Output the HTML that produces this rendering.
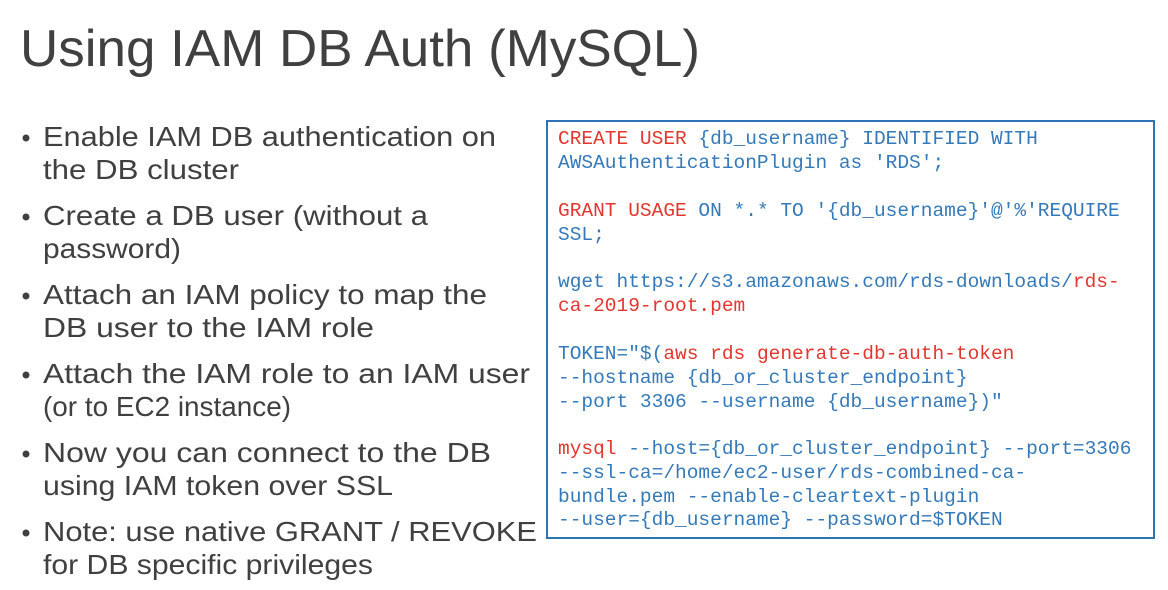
<!DOCTYPE html>
<html><head><meta charset="utf-8"><style>
html,body{margin:0;padding:0;background:#fff;width:1168px;height:590px;overflow:hidden}
svg{display:block}
.t{font-family:"Liberation Sans",sans-serif;fill:#404040}
.c{font-family:"Liberation Mono",monospace;font-size:19.5px}
.b{fill:#3579b8}.r{fill:#e2362f}
</style></head><body>
<svg width="1168" height="590" xmlns="http://www.w3.org/2000/svg">
<text class="t" x="20" y="66" font-size="52" textLength="680" lengthAdjust="spacingAndGlyphs">Using IAM DB Auth (MySQL)</text>
<g class="t" font-size="28">
<circle cx="26" cy="138" r="3.5" fill="#404040"/>
<text x="43" y="146" textLength="453" lengthAdjust="spacingAndGlyphs">Enable IAM DB authentication on</text>
<text x="43" y="179" textLength="196" lengthAdjust="spacingAndGlyphs">the DB cluster</text>
<circle cx="26" cy="217" r="3.5" fill="#404040"/>
<text x="43" y="225" textLength="385" lengthAdjust="spacingAndGlyphs">Create a DB user (without a</text>
<text x="43" y="258" textLength="138" lengthAdjust="spacingAndGlyphs">password)</text>
<circle cx="26" cy="296" r="3.5" fill="#404040"/>
<text x="43" y="304" textLength="444" lengthAdjust="spacingAndGlyphs">Attach an IAM policy to map the</text>
<text x="43" y="337" textLength="331" lengthAdjust="spacingAndGlyphs">DB user to the IAM role</text>
<circle cx="26" cy="375" r="3.5" fill="#404040"/>
<text x="43" y="383" textLength="487" lengthAdjust="spacingAndGlyphs">Attach the IAM role to an IAM user</text>
<text x="43" y="416" textLength="248" lengthAdjust="spacingAndGlyphs">(or to EC2 instance)</text>
<circle cx="26" cy="454" r="3.5" fill="#404040"/>
<text x="43" y="462" textLength="448" lengthAdjust="spacingAndGlyphs">Now you can connect to the DB</text>
<text x="43" y="495" textLength="350" lengthAdjust="spacingAndGlyphs">using IAM token over SSL</text>
<circle cx="26" cy="533" r="3.5" fill="#404040"/>
<text x="43" y="541" textLength="494" lengthAdjust="spacingAndGlyphs">Note: use native GRANT / REVOKE</text>
<text x="43" y="574" textLength="330" lengthAdjust="spacingAndGlyphs">for DB specific privileges</text>
</g>
<rect x="547" y="121" width="607" height="417" fill="none" stroke="#2e74b5" stroke-width="2"/>
<g class="c">
<text x="558" y="144"><tspan class="r">CREATE USER</tspan><tspan class="b"> {db_username} IDENTIFIED WITH</tspan></text>
<text x="558" y="168" class="b">AWSAuthenticationPlugin as 'RDS';</text>
<text x="558" y="216"><tspan class="r">GRANT USAGE</tspan><tspan class="b"> ON *.* TO '{db_username}'@'%'REQUIRE</tspan></text>
<text x="558" y="240" class="b">SSL;</text>
<text x="558" y="287"><tspan class="b">wget https://s3.amazonaws.com/rds-downloads/</tspan><tspan class="r">rds-</tspan></text>
<text x="558" y="311" class="r">ca-2019-root.pem</text>
<text x="558" y="359"><tspan class="b">TOKEN="$(</tspan><tspan class="r">aws rds generate-db-auth-token</tspan></text>
<text x="558" y="383" class="b">--hostname {db_or_cluster_endpoint}</text>
<text x="558" y="407" class="b">--port 3306 --username {db_username})"</text>
<text x="558" y="454"><tspan class="r">mysql</tspan><tspan class="b"> --host={db_or_cluster_endpoint} --port=3306</tspan></text>
<text x="558" y="478" class="b">--ssl-ca=/home/ec2-user/rds-combined-ca-</text>
<text x="558" y="502" class="b">bundle.pem --enable-cleartext-plugin</text>
<text x="558" y="525" class="b">--user={db_username} --password=$TOKEN</text>
</g>
</svg>
</body></html>
